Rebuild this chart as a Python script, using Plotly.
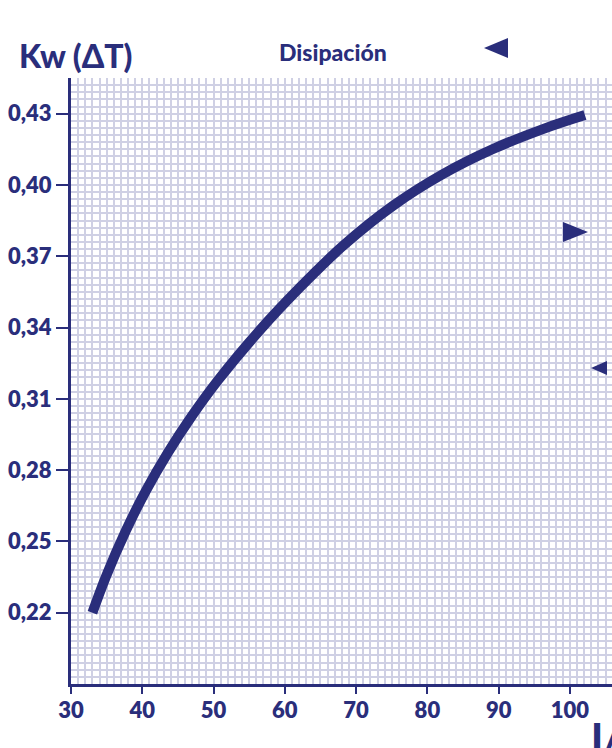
import plotly.graph_objects as go

# Data
curve_x = [33.0, 34.9, 37.7, 40.5, 43.6, 46.8, 50.6, 56.5, 62.1, 68.2, 75.2, 82.2, 89.2, 96.2, 102.1]
curve_y = [0.2200, 0.2352, 0.2545, 0.2713, 0.2874, 0.3021, 0.3177, 0.3389, 0.3568, 0.3745,
           0.3913, 0.4046, 0.4151, 0.4235, 0.4294]
y_ticks = [0.22, 0.25, 0.28, 0.31, 0.34, 0.37, 0.40, 0.43]
x_ticks = [30, 40, 50, 60, 70, 80, 90, 100]

NAVY = "#2a2e7b"
GRID = "#cfd0e4"
FONT = "Lato, 'Open Sans', sans-serif"

W, H = 612, 748
L, T, R, B = 71, 78, 0, 64
PW, PH = W - L - R, H - T - B


def px(X, Y):
    return (X - L) / PW, (H - B - Y) / PH


def tri(pts):
    p = [px(*q) for q in pts]
    return "M {} {} L {} {} L {} {} Z".format(p[0][0], p[0][1], p[1][0], p[1][1], p[2][0], p[2][1])


fig = go.Figure()
fig.add_trace(go.Scatter(
    x=curve_x, y=curve_y, mode="lines",
    line=dict(color=NAVY, width=10, shape="spline", smoothing=1.0),
    hoverinfo="skip", showlegend=False,
))

fig.update_layout(
    width=W, height=H,
    margin=dict(l=L, r=R, t=T, b=B, pad=0),
    paper_bgcolor="white", plot_bgcolor="white",
    separators=",.",
    font=dict(family=FONT, color=NAVY, size=22),
    showlegend=False,
)

TICKFONT = dict(family=FONT, size=22, color=NAVY, weight=800)

fig.update_xaxes(
    range=[30, 105.9], tickvals=x_ticks, ticktext=[str(v) for v in x_ticks],
    showgrid=True, gridcolor=GRID, gridwidth=1.5,
    minor=dict(dtick=1, tick0=30, showgrid=True, gridcolor=GRID, gridwidth=1.5),
    showline=True, linecolor=NAVY, linewidth=3,
    ticks="outside", ticklen=7, tickwidth=2, tickcolor=NAVY,
    tickfont=TICKFONT,
    ticklabelstandoff=-2,
    zeroline=False, fixedrange=True,
)
fig.update_yaxes(
    range=[0.19, 0.445], tickvals=y_ticks, tickformat=".2f",
    showgrid=True, gridcolor=GRID, gridwidth=1.5,
    minor=dict(dtick=0.003, tick0=0.19, showgrid=True, gridcolor=GRID, gridwidth=1.5),
    showline=True, linecolor=NAVY, linewidth=3,
    ticks="outside", ticklen=12, tickwidth=2, tickcolor=NAVY,
    tickfont=TICKFONT,
    zeroline=False, fixedrange=True,
)

shapes = []
for pts in [
    [(484, 48), (508, 38), (508, 58)],
    [(563, 222), (563, 242), (588, 232)],
    [(591, 368), (607, 361), (607, 375)],
]:
    shapes.append(dict(type="path", xref="paper", yref="paper", path=tri(pts),
                       fillcolor=NAVY, line=dict(width=0)))
fig.update_layout(shapes=shapes)

ax, ay = px(17, 55)
fig.add_annotation(xref="paper", yref="paper", x=ax, y=ay, xanchor="left", yanchor="middle",
                   text="Kw (ΔT)", showarrow=False,
                   font=dict(family=FONT, size=32, color=NAVY, weight=900))
ax, ay = px(277, 52)
fig.add_annotation(xref="paper", yref="paper", x=ax, y=ay, xanchor="left", yanchor="middle",
                   text="Disipación", showarrow=False,
                   font=dict(family=FONT, size=23, color=NAVY, weight=900))
ax, ay = px(589, 737)
fig.add_annotation(xref="paper", yref="paper", x=ax, y=ay, xanchor="left", yanchor="middle",
                   text="I/", showarrow=False,
                   font=dict(family=FONT, size=40, color=NAVY, weight=900))

fig.write_html(
    "out.html",
    config={"displayModeBar": False},
    post_script="document.body.style.margin='0';document.body.style.overflow='hidden';",
)
